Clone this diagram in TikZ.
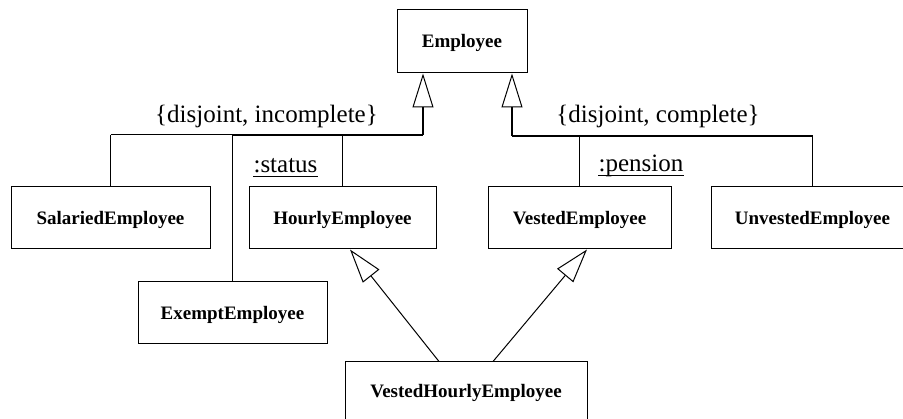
\documentclass[tikz,border=0pt]{standalone}
\usepackage{fontspec}
\setmainfont{Liberation Serif}
\usetikzlibrary{arrows.meta}
\begin{document}
\begin{tikzpicture}[x=1pt,y=-1pt,
  cls/.style={draw=black,line width=1pt,fill=white,inner sep=0pt,
    font=\fontsize{19}{23}\selectfont\bfseries,text height=12.6pt,text depth=0pt,
    minimum height=62pt},
  lbl/.style={inner sep=0pt,anchor=base,font=\fontsize{25}{30}\selectfont},
  thinln/.style={line width=1pt},
  thickln/.style={line width=1.6pt},
  gen/.style={-{Triangle[open,length=34pt,width=21pt,line width=1pt]},line width=1pt},
  uline/.style={line width=1.1pt}
]
\useasboundingbox (0,0) rectangle (903,419);
\clip (0,0) rectangle (903,419);

% classes
\node[cls,minimum width=130pt,minimum height=63pt] (emp) at (462,41.5) {Employee};
\node[cls,minimum width=199pt] (sal) at (110.5,218) {SalariedEmployee};
\node[cls,minimum width=187pt] (hour) at (342.5,218) {HourlyEmployee};
\node[cls,minimum width=183pt] (vest) at (579.5,218) {VestedEmployee};
\node[cls,minimum width=203pt] (unv) at (812.5,218) {UnvestedEmployee};
\node[cls,minimum width=189pt] (ex) at (232.5,313) {ExemptEmployee};
\node[cls,minimum width=242pt,minimum height=59pt] (vh) at (466,391.5) {VestedHourlyEmployee};

% junctions
\coordinate (jl) at (423,135);
\coordinate (jr) at (512,136);

% left generalization set
\draw[gen,line width=1.6pt] (jl) -- (jl |- emp.south);
\draw[thinln] (sal.north |- jl) -- (ex.north |- jl);
\draw[thickln] (ex.north |- jl) -- (jl);
\draw[thinln] (sal.north) -- (sal.north |- jl);
\draw[thinln] (ex.north) -- (ex.north |- jl);
\draw[thinln] (hour.north) -- (hour.north |- jl);

% right generalization set
\draw[gen,line width=1.6pt] (jr) -- (jr |- emp.south);
\draw[thickln] (jr) -- (unv.north |- jr);
\draw[thinln] (vest.north) -- (vest.north |- jr);
\draw[thinln] (unv.north) -- (unv.north |- jr);

% multiple inheritance
\draw[gen] ([xshift=-27pt]vh.north) -- ([xshift=7.5pt]hour.south);
\draw[gen] ([xshift=27pt]vh.north) -- ([xshift=7.5pt]vest.south);

% labels
\node[lbl] (c1) at (266.5,123) {\{disjoint, incomplete\}};
\node[lbl] (c2) at (658,123) {\{disjoint, complete\}};
\node[lbl] (d1) at (285.5,173) {:status};
\node[lbl] (d2) at (641,171.5) {:pension};
\draw[uline] ([yshift=-3.8pt]d1.base west) -- ([yshift=-3.8pt]d1.base east);
\draw[uline] ([yshift=-3.8pt]d2.base west) -- ([yshift=-3.8pt]d2.base east);
\end{tikzpicture}
\end{document}
